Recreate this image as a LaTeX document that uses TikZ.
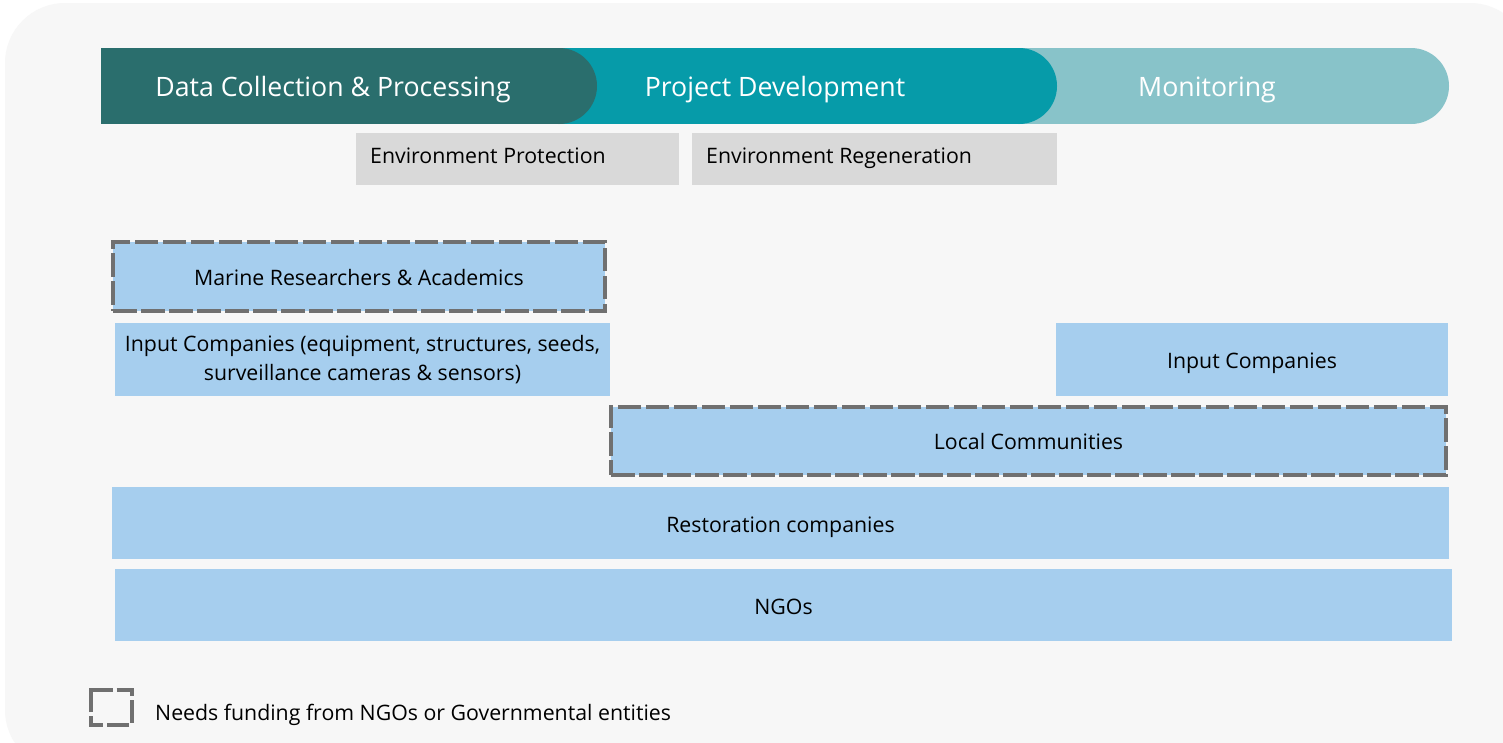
\documentclass[tikz,border=0pt]{standalone}
\usepackage{fontspec}
\setmainfont{Open Sans}
\definecolor{bgc}{HTML}{F7F7F7}
\definecolor{tealA}{HTML}{2A6E6D}
\definecolor{tealB}{HTML}{069BA9}
\definecolor{tealC}{HTML}{88C3C9}
\definecolor{grayBox}{HTML}{D9D9D9}
\definecolor{blueBox}{HTML}{A6CEEE}
\definecolor{dashGray}{HTML}{707070}
\begin{document}
\begin{tikzpicture}[x=1pt,y=-1pt,
  phase/.style={text=white,font=\fontsize{26.7}{32}\selectfont,inner sep=0,anchor=base},
  graybox/.style={fill=grayBox,minimum height=52pt,inner sep=0,anchor=north west},
  bluebox/.style={fill=blueBox,inner sep=0,align=center,font=\fontsize{21.3}{29.5}\selectfont},
  oneline/.style={text height=18pt,text depth=0pt},
  fundbox/.style={bluebox,oneline,draw=dashGray,line width=4pt,dash pattern=on 23.5pt off 4.5pt},
  btext/.style={font=\fontsize{21.3}{29.5}\selectfont,inner sep=0,anchor=base west},
  legline/.style={draw=dashGray,line width=4pt}
]
\useasboundingbox (0,0) rectangle (1503,742);
\fill[white] (0,0) rectangle (1503,742);
\fill[bgc,rounded corners=60pt] (5,3) rectangle (1530,770);
% header bar
\fill[tealC] (1000,48) rectangle (1411,124);
\fill[tealC] (1411,86) circle[radius=38pt];
\fill[tealB] (540,48) rectangle (1019,124);
\fill[tealB] (1019,86) circle[radius=38pt];
\fill[tealA] (101,48) rectangle (559,124);
\fill[tealA] (559,86) circle[radius=38pt];
\node[phase] (p1) at (333,96) {Data Collection \& Processing};
\node[phase] (p2) at (775,96) {Project Development};
\node[phase] (p3) at (1207,96) {Monitoring};
% gray boxes
\node[graybox,minimum width=323pt] (ep) at (356,133) {};
\node[btext] (ept) at (370,163.3) {Environment Protection};
\node[graybox,minimum width=365pt] (er) at (692,133) {};
\node[btext] (ert) at (706,163.3) {Environment Regeneration};
% blue boxes
\node[fundbox,minimum width=492pt,minimum height=69pt] (mra) at (359,276.5) {Marine Researchers \& Academics};
\node[bluebox,minimum width=495pt,minimum height=73pt] (icl) at (362.5,359.5) {Input Companies (equipment, structures, seeds,\\surveillance cameras \& sensors)};
\node[bluebox,oneline,minimum width=392pt,minimum height=73pt] (icr) at (1252,359.5) {Input Companies};
\node[fundbox,minimum width=835pt,minimum height=68.3pt] (lc) at (1028.5,440.8) {Local Communities};
\node[bluebox,oneline,minimum width=1337pt,minimum height=72pt] (rc) at (780.5,523) {Restoration companies};
\node[bluebox,oneline,minimum width=1337pt,minimum height=72pt] (ngo) at (783.5,605) {NGOs};
% legend
\coordinate (legc) at (111,707.5);
\draw[legline] (90.7,712) -- (90.7,690) -- (112.7,690);
\draw[legline] (116.7,690) -- (131.5,690) -- (131.5,696);
\draw[legline] (131.5,700) -- (131.5,723);
\draw[legline] (129,724.7) -- (106.7,724.7);
\draw[legline] (102.7,724.7) -- (90.7,724.7) -- (90.7,716);
\node[btext] (legt) at (155,720.5) {Needs funding from NGOs or Governmental entities};
\end{tikzpicture}
\end{document}
